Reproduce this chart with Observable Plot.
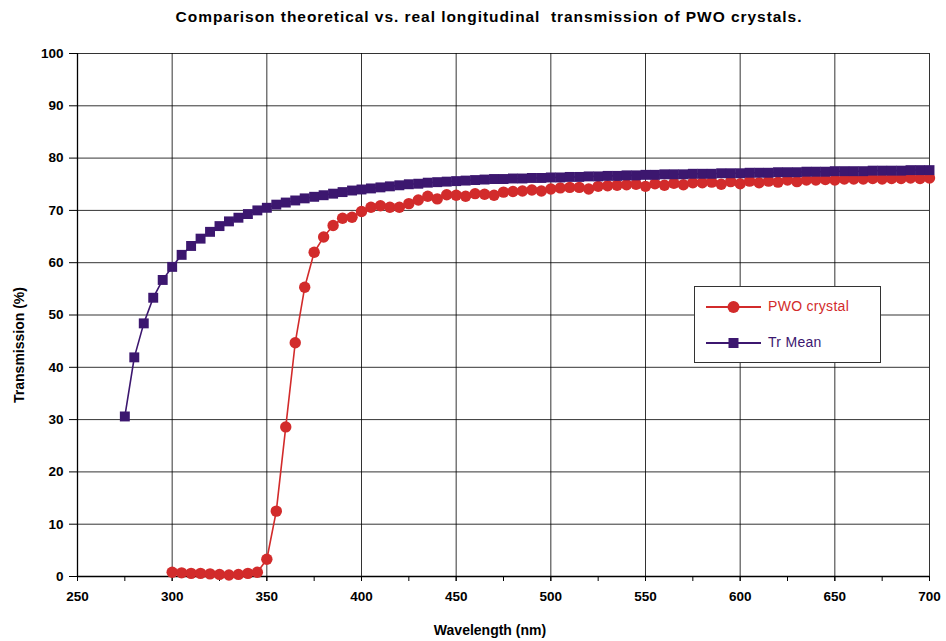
<!DOCTYPE html>
<html>
<head>
<meta charset="utf-8">
<script src="https://cdn.jsdelivr.net/npm/d3@7"></script>
<script src="https://cdn.jsdelivr.net/npm/@observablehq/plot@0.6"></script>
<style>
  html, body { margin: 0; padding: 0; background: #fff; }
</style>
</head>
<body>
<div id="chart"></div>
<script>
// Measured transmission of the PWO crystal, every 5 nm from 300 to 700 nm
const pwoWavelength = [
  300,305,310,315,320,325,330,335,340,345,350,355,360,365,370,375,380,385,390,395,
  400,405,410,415,420,425,430,435,440,445,450,455,460,465,470,475,480,485,490,495,
  500,505,510,515,520,525,530,535,540,545,550,555,560,565,570,575,580,585,590,595,
  600,605,610,615,620,625,630,635,640,645,650,655,660,665,670,675,680,685,690,695,700
];
const pwoTransmission = [
  0.8,0.7,0.6,0.6,0.5,0.4,0.3,0.4,0.6,0.8,3.3,12.5,28.6,44.7,55.3,62.0,64.9,67.1,68.5,68.7,
  69.8,70.6,70.9,70.6,70.6,71.3,72.0,72.7,72.2,73.0,72.9,72.7,73.2,73.1,72.9,73.5,73.6,73.7,73.9,73.7,
  74.1,74.3,74.4,74.4,74.1,74.6,74.7,74.8,74.9,75.0,74.6,75.1,74.8,75.2,74.9,75.3,75.3,75.4,75.0,75.5,
  75.1,75.6,75.3,75.6,75.4,75.8,75.5,75.8,75.8,75.9,75.8,76.0,76.0,76.0,76.1,76.0,76.1,76.1,76.2,76.1,76.2
];

// Theoretical mean transmission, every 5 nm from 275 to 700 nm
const meanWavelength = [
  275,280,285,290,295,
  300,305,310,315,320,325,330,335,340,345,350,355,360,365,370,375,380,385,390,395,
  400,405,410,415,420,425,430,435,440,445,450,455,460,465,470,475,480,485,490,495,
  500,505,510,515,520,525,530,535,540,545,550,555,560,565,570,575,580,585,590,595,
  600,605,610,615,620,625,630,635,640,645,650,655,660,665,670,675,680,685,690,695,700
];
const meanTransmission = [
  30.6,41.9,48.4,53.3,56.7,
  59.2,61.5,63.2,64.6,65.9,67.0,67.9,68.6,69.3,70.0,70.5,71.1,71.5,71.9,72.3,72.6,72.9,73.2,73.5,73.8,
  74.0,74.2,74.4,74.6,74.8,75.0,75.1,75.3,75.4,75.5,75.6,75.7,75.8,75.9,76.0,76.0,76.1,76.1,76.2,76.2,
  76.3,76.3,76.4,76.4,76.5,76.5,76.6,76.6,76.7,76.7,76.8,76.8,76.9,76.9,76.9,77.0,77.0,77.0,77.1,77.1,
  77.1,77.2,77.2,77.2,77.3,77.3,77.3,77.4,77.4,77.4,77.5,77.5,77.5,77.5,77.6,77.6,77.6,77.6,77.7,77.7,77.7
];

// Axis ticks
const xMajorTicks = [250,300,350,400,450,500,550,600,650,700];
const xMinorTicks = [250,275,300,325,350,375,400,425,450,475,500,525,550,575,600,625,650,675,700];
const yTicks = [0,10,20,30,40,50,60,70,80,90,100];

const chartTitle = "Comparison theoretical vs. real longitudinal  transmission of PWO crystals.";
const xTitle = "Wavelength (nm)";
const yTitle = "Transmission (%)";
const seriesNames = ["PWO crystal", "Tr Mean"];
const seriesColors = ["#D22B2B", "#3C176F"];

const pwo = pwoWavelength.map((w, i) => ({w, t: pwoTransmission[i]}));
const mean = meanWavelength.map((w, i) => ({w, t: meanTransmission[i]}));

const font = '"Liberation Sans", Arial, sans-serif';

const plot = Plot.plot({
  width: 946,
  height: 641,
  marginLeft: 77,
  marginRight: 17,
  marginTop: 53,
  marginBottom: 65,
  style: {fontFamily: font, background: "#fff", overflow: "visible"},
  x: {domain: [250, 700], axis: null},
  y: {domain: [0, 100], axis: null},
  marks: [
    Plot.gridX(xMajorTicks, {stroke: "#000", strokeOpacity: 0.8, strokeWidth: 1}),
    Plot.gridY(yTicks, {stroke: "#000", strokeOpacity: 0.8, strokeWidth: 1}),
    Plot.ruleX([250], {stroke: "#000", strokeWidth: 1.3}),
    Plot.ruleY([0], {stroke: "#000", strokeWidth: 1.3}),
    Plot.axisX(xMinorTicks, {tickSize: 5, tickFormat: () => "", stroke: "#000", label: null}),
    Plot.axisX(xMajorTicks, {tickSize: 5, tickPadding: 10, fontSize: 13.5, fontWeight: "bold", fill: "#000", label: null}),
    Plot.axisY(yTicks, {tickSize: 8, tickPadding: 6, fontSize: 13.5, fontWeight: "bold", fill: "#000", label: null}),
    Plot.line(pwo, {x: "w", y: "t", stroke: seriesColors[0], strokeWidth: 1.6}),
    Plot.dot(pwo, {x: "w", y: "t", r: 5.7, fill: seriesColors[0], symbol: "circle"}),
    Plot.line(mean, {x: "w", y: "t", stroke: seriesColors[1], strokeWidth: 1.6}),
    Plot.dot(mean, {x: "w", y: "t", r: 5.6, fill: seriesColors[1], symbol: "square"})
  ]
});

document.getElementById("chart").appendChild(plot);

const svg = d3.select(plot);

// Chart title
svg.append("text")
  .attr("x", 489).attr("y", 18)
  .attr("text-anchor", "middle").attr("dominant-baseline", "middle")
  .style("font", `bold 15.5px ${font}`).style("letter-spacing", "0.95px")
  .style("white-space", "pre").attr("xml:space", "preserve")
  .attr("fill", "#000")
  .text(chartTitle);

// Axis titles
svg.append("text")
  .attr("x", 490).attr("y", 631)
  .attr("text-anchor", "middle").attr("dominant-baseline", "middle")
  .style("font", `bold 14px ${font}`).attr("fill", "#000")
  .text(xTitle);
svg.append("text")
  .attr("transform", "translate(20,345) rotate(-90)")
  .attr("text-anchor", "middle").attr("dominant-baseline", "middle")
  .style("font", `bold 14px ${font}`).attr("fill", "#000")
  .text(yTitle);

// Legend box
const lg = svg.append("g").attr("transform", "translate(694,286)");
lg.append("rect").attr("x", 0.5).attr("y", 0.5).attr("width", 186).attr("height", 76)
  .attr("fill", "#fff").attr("stroke", "#333").attr("stroke-width", 1);
seriesNames.forEach((name, i) => {
  const y = 21 + i * 36;
  const g = lg.append("g").attr("transform", `translate(0,${y})`);
  g.append("line").attr("x1", 12).attr("x2", 67).attr("y1", 0).attr("y2", 0)
    .attr("stroke", seriesColors[i]).attr("stroke-width", 2);
  if (i === 0) {
    g.append("circle").attr("cx", 39.5).attr("cy", 0).attr("r", 6).attr("fill", seriesColors[i]);
  } else {
    g.append("rect").attr("x", 34.5).attr("y", -5).attr("width", 10).attr("height", 10).attr("fill", seriesColors[i]);
  }
  g.append("text").attr("x", 74).attr("y", 0)
    .attr("text-anchor", "start").attr("dominant-baseline", "middle")
    .style("font", `14px ${font}`).style("letter-spacing", "0.3px")
    .attr("fill", seriesColors[i]).text(name);
});
</script>
</body>
</html>
